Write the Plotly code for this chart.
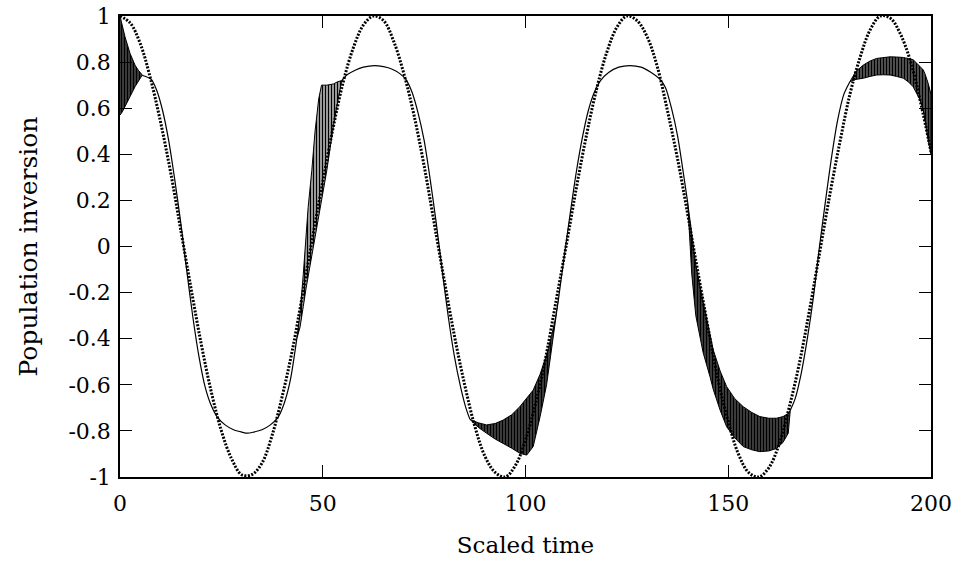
import plotly.graph_objects as go

# ---------------- data ----------------
# dotted curve (semi-classical cosine), sampled every 2.5 time units
dotted_t = [i * 2.5 for i in range(81)]
dotted_y = [1.00, 0.97, 0.88, 0.73, 0.54, 0.32, 0.07, -0.18, -0.42, -0.63,
            -0.80, -0.92, -0.99, -0.99, -0.94, -0.82, -0.65, -0.45, -0.21, 0.04,
            0.28, 0.51, 0.71, 0.86, 0.96, 1.00, 0.98, 0.89, 0.75, 0.57,
            0.35, 0.10, -0.15, -0.39, -0.60, -0.78, -0.91, -0.98, -1.00, -0.95,
            -0.84, -0.68, -0.48, -0.24, 0.00, 0.25, 0.48, 0.68, 0.84, 0.95,
            1.00, 0.98, 0.91, 0.78, 0.59, 0.38, 0.14, -0.11, -0.35, -0.58,
            -0.76, -0.90, -0.98, -1.00, -0.96, -0.86, -0.70, -0.51, -0.28, -0.03,
            0.22, 0.45, 0.66, 0.82, 0.94, 1.00, 0.99, 0.92, 0.80, 0.62,
            0.41]

# smooth parts of the solid (quantum) curve; None separates the pieces
solid_t = [5.6, 7.7, 9, 10.5, 12, 13.5, 15, 16.5, 18, 19.5, 21, 22.5, 24, 26, 28,
           30, 31.4, 33, 35, 37, 39, 40.5, 42, 43.6, None,
           54.7, 56, 58, 60, 62.8, 65, 67, 69, 70.5, 72, 73.5, 75, 76.5, 78,
           79.5, 81, 82.5, 84, 85.3, 86.3, None,
           108.1, 109.5, 111, 112.5, 114, 115.5, 117, 118.5, 120.5, 123, 125.7,
           128.5, 131, 133, 134.5, 136, 137.5, 139, 140, None,
           165.3, 166.5, 168, 169.5, 171, 172.5, 174, 175.5, 177, 178.5, 180]
solid_y = [0.742, 0.725, 0.68, 0.59, 0.46, 0.29, 0.10, -0.11, -0.31, -0.48, -0.61,
           -0.69, -0.74, -0.775, -0.795, -0.805, -0.81, -0.805, -0.795, -0.775,
           -0.74, -0.68, -0.58, -0.40, None,
           0.72, 0.745, 0.765, 0.778, 0.785, 0.78, 0.77, 0.75, 0.725, 0.67, 0.58,
           0.46, 0.29, 0.10, -0.11, -0.31, -0.48, -0.61, -0.70, -0.75, None,
           -0.232, -0.05, 0.14, 0.32, 0.47, 0.59, 0.67, 0.72, 0.755, 0.778, 0.785,
           0.778, 0.755, 0.728, 0.69, 0.60, 0.48, 0.31, 0.19, None,
           -0.71, -0.66, -0.55, -0.40, -0.22, 0.0, 0.20, 0.39, 0.55, 0.66, 0.715]

# rapidly oscillating windows: time, upper envelope, lower envelope
band1_t = [0.0, 0.6, 1.23, 2.47, 3.7, 4.5, 5.35, 5.6]
band1_hi = [1.0, 0.95, 0.91, 0.838, 0.787, 0.765, 0.744, 0.742]
band1_lo = [0.57, 0.585, 0.606, 0.65, 0.693, 0.715, 0.74, 0.742]

band2_t = [43.6, 44.4, 45.2, 45.9, 46.4, 47.3, 48.1, 49.0, 49.7, 51.0, 52.6, 53.7, 54.7]
band2_hi = [-0.40, -0.29, -0.12, 0.04, 0.17, 0.33, 0.50, 0.64, 0.70, 0.70, 0.705, 0.715, 0.72]
band2_lo = [-0.40, -0.35, -0.26, -0.18, -0.12, -0.03, 0.05, 0.13, 0.20, 0.33, 0.52, 0.63, 0.72]

band3_t = [86.3, 88.4, 90.4, 92.5, 94.5, 96.6, 98.6, 100.3, 101.9, 103.6, 105.2, 106.4, 107.3, 108.1]
band3_hi = [-0.75, -0.765, -0.774, -0.768, -0.753, -0.73, -0.695, -0.66, -0.623, -0.554, -0.47, -0.39, -0.319, -0.232]
band3_lo = [-0.75, -0.785, -0.81, -0.835, -0.854, -0.875, -0.897, -0.905, -0.868, -0.738, -0.60, -0.463, -0.34, -0.232]

band4_t = [140.0, 141.0, 142.0, 143.8, 145.5, 146.3, 148.0, 149.6, 151.6, 153.7, 155.8, 157.8, 160.0, 161.9, 163.5, 164.8, 165.3]
band4_hi = [0.19, 0.05, -0.08, -0.24, -0.38, -0.449, -0.54, -0.608, -0.66, -0.695, -0.72, -0.738, -0.745, -0.745, -0.738, -0.725, -0.71]
band4_lo = [0.19, -0.12, -0.30, -0.46, -0.565, -0.62, -0.71, -0.782, -0.83, -0.868, -0.882, -0.89, -0.887, -0.876, -0.85, -0.81, -0.71]

band5_t = [180.0, 181.5, 183.3, 185.0, 186.6, 188.3, 189.9, 191.5, 193.2, 194.5, 195.6, 196.5, 197.3, 198.1, 198.5, 199.3, 200.0]
band5_hi = [0.715, 0.76, 0.787, 0.805, 0.816, 0.821, 0.823, 0.822, 0.82, 0.815, 0.81, 0.795, 0.78, 0.766, 0.75, 0.708, 0.66]
band5_lo = [0.715, 0.725, 0.73, 0.738, 0.744, 0.745, 0.744, 0.738, 0.73, 0.713, 0.693, 0.665, 0.636, 0.59, 0.549, 0.462, 0.40]

x_ticks = [0, 50, 100, 150, 200]
x_tick_text = ["0", "50", "100", "150", "200"]
y_ticks = [1, 0.8, 0.6, 0.4, 0.2, 0, -0.2, -0.4, -0.6, -0.8, -1]
y_tick_text = ["1", "0.8", "0.6", "0.4", "0.2", "0", "-0.2", "-0.4", "-0.6", "-0.8", "-1"]

# ---------------- figure ----------------
FONT = "DejaVu Serif"
fig = go.Figure()

bands = [
    (band1_t, band1_hi, band1_lo, 3, 0.85),
    (band2_t, band2_hi, band2_lo, 3, 0.6),
    (band3_t, band3_hi, band3_lo, 3, 0.85),
    (band4_t, band4_hi, band4_lo, 3, 0.85),
    (band5_t, band5_hi, band5_lo, 3, 0.8),
]
for bt, bhi, blo, psize, psol in bands:
    fig.add_trace(go.Scatter(
        x=bt + bt[::-1], y=bhi + blo[::-1],
        mode="lines", fill="toself",
        line=dict(color="black", width=1),
        fillcolor="white",
        fillpattern=dict(shape="|", size=psize, solidity=psol,
                         fgcolor="black", bgcolor="white", fillmode="replace"),
        hoverinfo="skip",
    ))

fig.add_trace(go.Scatter(
    x=solid_t, y=solid_y, mode="lines",
    line=dict(color="black", width=1.2, shape="spline", smoothing=0.8),
    connectgaps=False, hoverinfo="skip",
))

fig.add_trace(go.Scatter(
    x=dotted_t, y=dotted_y, mode="lines",
    line=dict(color="black", width=3, dash="2px,1.5px", shape="spline", smoothing=1.0),
    hoverinfo="skip",
))

axis_common = dict(
    ticks="inside", ticklen=12, tickwidth=1, tickcolor="black",
    showline=True, linecolor="black", linewidth=1.5, mirror="ticks",
    showgrid=False, zeroline=False, automargin=False,
    ticklabeloverflow="allow",
    tickfont=dict(family=FONT, size=22, color="black"),
)

fig.update_layout(
    width=972, height=566,
    margin=dict(l=120, r=41, t=16, b=89),
    plot_bgcolor="white", paper_bgcolor="white",
    showlegend=False,
    font=dict(family=FONT, size=22, color="black"),
    xaxis=dict(range=[0, 200], tickvals=x_ticks, ticktext=x_tick_text,
               ticklabelstandoff=6,
               title=dict(text="Scaled time", standoff=22,
                          font=dict(family=FONT, size=23)),
               **axis_common),
    yaxis=dict(range=[-1, 1], tickvals=y_ticks, ticktext=y_tick_text,
               ticklabelstandoff=3,
               title=dict(text="Population inversion", standoff=24,
                          font=dict(family=FONT, size=25)),
               **axis_common),
)

# remove the browser's default 8 px body margin so the figure fills the window
fig.write_html("out.html",
               config={"displayModeBar": False},
               post_script="document.body.style.margin='0';document.body.style.overflow='hidden';")
